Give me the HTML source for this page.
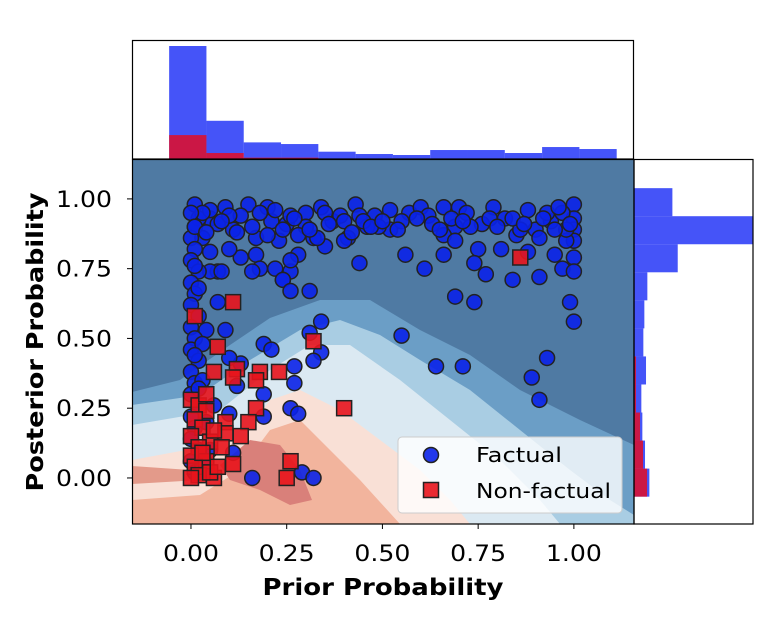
<!DOCTYPE html>
<html><head><meta charset="utf-8"><style>
html,body{margin:0;padding:0;background:#fff;}
svg{display:block;font-family:"DejaVu Sans","Liberation Sans",sans-serif;}
</style></head><body>
<svg id="chart" width="779" height="636" viewBox="0 0 779 636" xmlns="http://www.w3.org/2000/svg">
<defs><clipPath id="mainclip"><rect x="132" y="159" width="502" height="365"/></clipPath></defs>
<g id="bg" clip-path="url(#mainclip)">
<rect x="132" y="159" width="502" height="365" fill="#4f7aa3"/>
<polygon fill="#6b9ec6" points="132,392 180,380 230,345 270,318 320,300 370,300 420,330 470,355 520,390 580,420 634,445 634,524 132,524"/>
<polygon fill="#a9cde3" points="132,405 200,395 250,360 300,330 340,320 380,335 420,360 470,390 520,430 570,470 610,500 634,515 634,524 132,524"/>
<polygon fill="#dbe9f2" points="132,425 220,410 270,370 310,345 350,345 400,380 450,420 500,460 540,500 560,524 132,524"/>
<polygon fill="#f9e0d6" points="132,460 240,440 270,400 300,390 340,410 380,440 420,470 450,500 470,524 132,524"/>
<polygon fill="#f2b49d" points="132,500 200,495 240,470 270,430 300,420 330,450 360,480 400,524 132,524"/>
<polygon fill="#d9807a" points="220,465 250,440 280,445 300,470 312,500 290,505 260,490 230,480"/>
<polygon fill="#e39a8a" points="132,466 190,470 200,480 132,484"/>
</g>
<g id="marks" clip-path="url(#mainclip)"></g>
<g id="hists"></g>
<g id="axes"></g>
<g id="legend">
<rect x="398" y="437" width="224" height="76" rx="4" fill="rgba(255,255,255,0.8)" stroke="#cccccc" stroke-width="1"/>
<g>
<circle cx="431" cy="455" r="7.5" fill="#0a22e8" fill-opacity="0.9" stroke="#222" stroke-width="1.5"/>
<text x="476" y="462" font-size="20" textLength="86" lengthAdjust="spacingAndGlyphs" fill="#000">Factual</text></g>
<g>
<rect x="423.5" y="482.5" width="15" height="15" fill="#e8141c" fill-opacity="0.9" stroke="#222" stroke-width="1.5"/>
<text x="476" y="498" font-size="20" textLength="135" lengthAdjust="spacingAndGlyphs" fill="#000">Non-factual</text></g>
</g>
<text x="383" y="595" font-size="23" font-weight="bold" text-anchor="middle" textLength="241" lengthAdjust="spacingAndGlyphs">Prior Probability</text>
<text transform="translate(43,342) rotate(-90)" font-size="23" font-weight="bold" text-anchor="middle" textLength="299" lengthAdjust="spacingAndGlyphs">Posterior Probability</text>
</svg>
<script>
// ---- data ----
const xTicks = [0, 0.25, 0.5, 0.75, 1.0];
const xTickLabels = ["0.00", "0.25", "0.50", "0.75", "1.00"];
const yTicks = [0, 0.25, 0.5, 0.75, 1.0];
const yTickLabels = ["0.00", "0.25", "0.50", "0.75", "1.00"];

const factualX = [0.01,0.05,0.11,0.15,0.20,0.25,0.30,0.34,0.43,0.44,0.48,0.52,0.52,0.49,0.41,0.35,0.28,0.26,0.24,0.17,0.18,0.13,0.07,0.44,0.56,0.57,0.60,0.62,0.66,0.70,0.69,0.66,0.69,0.66,0.61,0.75,0.74,0.77,0.79,0.76,0.81,0.82,0.88,0.88,0.90,0.94,0.95,0.97,1.00,1.00,1.00,1.00,1.00,1.00,0.85,0.84,0.91,0.99,0.69,0.74,0.02,0.03,0.05,0.09,0.13,0.21,0.23,0.32,0.37,0.39,0.46,0.40,0.33,0.30,0.17,0.10,0.05,0.05,0.08,0.16,0.22,0.26,0.28,0.72,0.73,0.86,0.93,0.97,0.98,0.98,0.95,
0.03,0.07,0.10,0.18,0.22,0.26,0.35,0.40,0.45,0.55,0.63,0.68,0.78,0.84,0.92,0.96,
0.24,0.26,0.31,1.00,0.34,0.55,0.31,0.19,0.21,0.34,0.32,0.27,0.27,0.19,0.26,0.28,0.19,0.93,0.64,0.71,0.89,0.91,0.07,0.04,0.09,0.13,0.12,0.06,0.11,0.16,0.29,0.32,0.10,0.10,
0,0.01,0,0.01,0,0.02,0,0.01,0,0.02,0,0.01,0,0.02,0,0.01,0,0.02,0,0.01,0,0.02,0,0.01,0.03,0.03,0.04,0.05,0.03,
0.01,0.04,0.08,0.12,0.16,0.20,0.24,0.27,0.31,0.36,0.42,0.47,0.50,0.54,0.59,0.65,0.71,0.80,0.87,0.91,0.99,0.01,0.02,0.01,0.02];
const factualY = [0.98,0.93,0.89,0.98,0.97,0.91,0.95,0.97,0.98,0.94,0.94,0.96,0.89,0.90,0.86,0.83,0.80,0.74,0.71,0.80,0.75,0.79,0.74,0.77,0.80,0.95,0.97,0.94,0.97,0.97,0.90,0.87,0.85,0.80,0.75,0.82,0.77,0.73,0.97,0.91,0.82,0.93,0.96,0.81,0.89,0.92,0.80,0.75,0.98,0.93,0.89,0.85,0.79,0.74,0.87,0.71,0.72,0.63,0.65,0.63,0.93,0.86,0.96,0.97,0.94,0.92,0.85,0.86,0.92,0.94,0.90,0.85,0.86,0.90,0.86,0.82,0.81,0.74,0.74,0.74,0.75,0.78,0.87,0.95,0.90,0.89,0.95,0.95,0.85,0.89,0.89,
0.95,0.91,0.94,0.95,0.96,0.94,0.95,0.92,0.92,0.92,0.91,0.93,0.93,0.93,0.93,0.97,
0.71,0.67,0.67,0.56,0.56,0.51,0.52,0.48,0.46,0.45,0.42,0.40,0.34,0.30,0.25,0.23,0.22,0.43,0.40,0.40,0.36,0.28,0.63,0.53,0.53,0.41,0.33,0.26,0.09,0.00,0.02,0.00,0.23,0.43,
0.95,0.90,0.86,0.82,0.78,0.74,0.70,0.66,0.62,0.58,0.54,0.50,0.46,0.42,0.38,0.34,0.30,0.26,0.22,0.18,0.14,0.10,0.06,0.02,0.48,0.35,0.20,0.10,0.05,
0.90,0.88,0.92,0.88,0.90,0.87,0.89,0.93,0.89,0.91,0.88,0.90,0.92,0.89,0.93,0.89,0.92,0.90,0.91,0.86,0.91,0.76,0.68,0.44,0.32];

const nonFactualX = [0.86,0.11,0.01,0.07,0.32,0.12,0.06,0.11,0.18,0.23,0.17,0.40,0.17,0.15,0.13,0.09,0.09,0.26,0.25,0.11,0.06,0.03,
0.00,0.02,0.04,0.01,0.03,0.00,0.05,0.02,0.00,0.04,0.01,0.02,0.00,0.05,0.07,0.03,0.06,0.08,0.04];
const nonFactualY = [0.79,0.63,0.58,0.47,0.49,0.39,0.38,0.36,0.38,0.38,0.35,0.25,0.25,0.20,0.15,0.20,0.16,0.06,0.00,0.05,0.00,0.02,
0.28,0.26,0.24,0.21,0.18,0.15,0.13,0.11,0.08,0.06,0.04,0.01,0.00,0.02,0.04,0.09,0.17,0.11,0.30];

// top histogram (prior)
const priorBinStart = -0.057, priorBinWidth = 0.0974;
const priorFactualCounts = [340,115,50,45,22,15,12,27,27,18,36,30];
const priorNonFactualCounts = [72,18,4,4,0,0,0,0,0,0,0,0];
// right histogram (posterior), bins from bottom up
const postBinStart = -0.067, postBinWidth = 0.1005;
const postFactualCounts = [46,33,25,22,36,28,31,40,131,355,115];
const postNonFactualCounts = [39,27,18,6,6,0,0,0,0,0,0];

// ---- axes ----
const X0 = 132, X1 = 634, Y0 = 159, Y1 = 524;
const xMin = -0.154, xMax = 1.157, yMin = -0.165, yMax = 1.143;
const sx = v => X0 + (v - xMin) / (xMax - xMin) * (X1 - X0);
const sy = v => Y1 - (v - yMin) / (yMax - yMin) * (Y1 - Y0);
const topScale = c => c * 113 / 340;
const rightScale = c => c * 118.5 / 355;
const NS = "http://www.w3.org/2000/svg";
function mk(tag, attrs, parent) {
  const e = document.createElementNS(NS, tag);
  for (const k in attrs) e.setAttribute(k, attrs[k]);
  parent.appendChild(e);
  return e;
}
const marks = document.getElementById('marks');
const hists = document.getElementById('hists');
const axes = document.getElementById('axes');

factualX.forEach((x, i) => {
  const c = mk('circle', {cx: sx(x), cy: sy(factualY[i]), r: 7.5, fill: '#0a22e8', 'fill-opacity': 0.9, stroke: '#222', 'stroke-width': 1.5}, marks);
  
  
});
nonFactualX.forEach((x, i) => {
  const r = mk('rect', {x: sx(x) - 7.5, y: sy(nonFactualY[i]) - 7.5, width: 15, height: 15, fill: '#e8141c', 'fill-opacity': 0.9, stroke: '#222', 'stroke-width': 1.5}, marks);
  
  
});

const TY1 = 159;
priorFactualCounts.forEach((c, i) => {
  const xa = sx(priorBinStart + i * priorBinWidth), xb = sx(priorBinStart + (i + 1) * priorBinWidth);
  const h = topScale(c);
  const r = mk('rect', {x: xa, y: TY1 - h, width: xb - xa, height: h, fill: 'rgba(0,20,245,0.73)'}, hists);
  
  
});
priorNonFactualCounts.forEach((c, i) => {
  if (!c) return;
  const xa = sx(priorBinStart + i * priorBinWidth), xb = sx(priorBinStart + (i + 1) * priorBinWidth);
  const h = topScale(c);
  const r = mk('rect', {x: xa, y: TY1 - h, width: xb - xa, height: h, fill: 'rgba(255,0,0,0.72)'}, hists);
  
  
});
const RX0 = 634;
postFactualCounts.forEach((c, i) => {
  const ya = sy(postBinStart + (i + 1) * postBinWidth), yb = sy(postBinStart + i * postBinWidth);
  const r = mk('rect', {x: RX0, y: ya, width: rightScale(c), height: yb - ya, fill: 'rgba(0,20,245,0.73)'}, hists);
  
  
});
postNonFactualCounts.forEach((c, i) => {
  if (!c) return;
  const ya = sy(postBinStart + (i + 1) * postBinWidth), yb = sy(postBinStart + i * postBinWidth);
  const r = mk('rect', {x: RX0, y: ya, width: rightScale(c), height: yb - ya, fill: 'rgba(255,0,0,0.72)'}, hists);
  
  
});

const f1 = mk('rect', {x: 132.5, y: 40.5, width: 501, height: 118.5, fill: 'none', stroke: '#000', 'stroke-width': 1.2}, axes);


const f2 = mk('rect', {x: 634, y: 159.5, width: 119, height: 364.5, fill: 'none', stroke: '#000', 'stroke-width': 1.2}, axes);


const f3 = mk('rect', {x: 132.5, y: 159.5, width: 501.5, height: 364.5, fill: 'none', stroke: '#000', 'stroke-width': 1.2}, axes);



xTicks.forEach((v, i) => {
  const x = sx(v);
  mk('line', {x1: x, x2: x, y1: Y1, y2: Y1 + 5, stroke: '#000', 'stroke-width': 1}, axes);
  const t = mk('text', {x: x, y: 561, 'font-size': 22, 'text-anchor': 'middle', textLength: 56, lengthAdjust: 'spacingAndGlyphs', fill: '#000'}, axes);
  t.textContent = xTickLabels[i];
  
  
});
yTicks.forEach((v, i) => {
  const y = sy(v);
  mk('line', {x1: X0 - 5, x2: X0, y1: y, y2: y, stroke: '#000', 'stroke-width': 1}, axes);
  const t = mk('text', {x: 112, y: y + 8, 'font-size': 22, 'text-anchor': 'end', textLength: 56, lengthAdjust: 'spacingAndGlyphs', fill: '#000'}, axes);
  t.textContent = yTickLabels[i];
  
  
});
</script>
</body></html>
